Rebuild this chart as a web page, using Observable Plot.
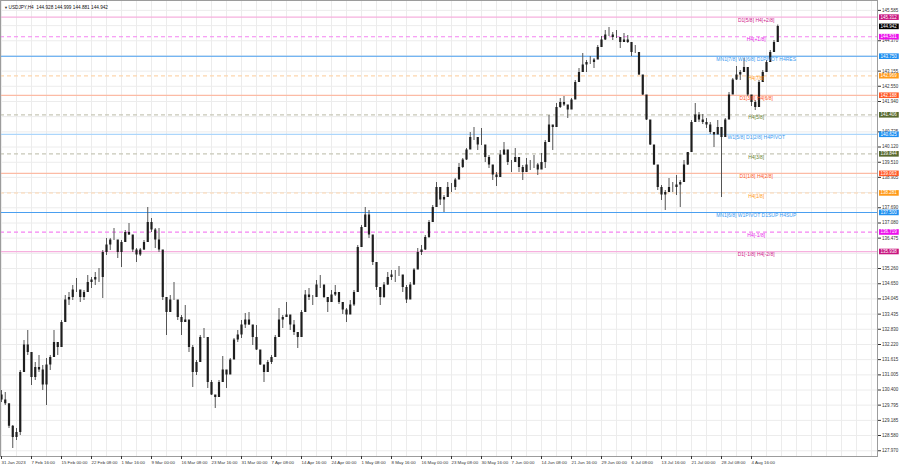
<!DOCTYPE html>
<html><head><meta charset="utf-8">
<script src="https://cdn.jsdelivr.net/npm/d3@7"></script>
<script src="https://cdn.jsdelivr.net/npm/@observablehq/plot@0.6"></script>
<style>html,body{margin:0;padding:0;background:#fff;} svg{display:block}</style>
</head><body><div id="chart"></div>
<script>
// ---------- DATA ----------
const symbolTitle = "USDJPY,H4  144.928 144.999 144.881 144.942";
const barStep = 4; // H4 bars represented by each sampled candle
const firstOpen = 130.20;
const hi = [
130.38,130.30,129.58,128.98,128.86,131.18,132.38,132.78,131.66,131.50,
131.78,131.38,131.66,131.78,132.78,132.18,133.18,134.18,134.30,134.58,
134.86,134.30,134.38,134.98,134.90,135.10,135.26,135.98,136.46,136.46,
136.86,136.18,136.38,136.78,137.06,136.38,136.06,136.06,136.38,137.70,
137.26,136.86,136.86,135.50,133.78,134.18,134.70,133.90,133.38,133.78,
133.10,132.18,131.58,132.58,132.86,132.38,130.78,130.18,130.78,131.74,
131.10,131.66,132.46,132.78,133.18,133.46,133.50,132.66,132.98,131.78,
131.26,131.58,131.78,132.58,133.66,133.38,133.90,133.34,133.18,132.70,
133.58,134.38,134.46,134.18,134.78,134.98,134.58,133.98,134.38,134.58,
134.30,133.90,133.66,133.98,134.38,136.18,136.98,137.70,137.58,136.46,
135.38,134.38,134.70,135.10,135.18,135.18,135.34,134.98,134.58,134.70,
135.26,136.06,136.18,136.58,137.18,137.78,138.70,138.46,138.18,138.70,
138.66,138.86,139.46,139.66,140.06,140.70,140.90,140.46,140.86,139.98,
139.78,139.38,139.10,139.98,140.30,139.90,139.58,140.06,139.58,139.38,
139.66,139.58,139.78,139.46,139.86,140.38,141.38,140.98,141.86,142.06,
142.14,141.66,142.06,142.78,143.26,143.86,143.58,143.74,143.66,144.18,
144.54,144.78,144.90,144.70,144.78,144.38,144.66,144.58,144.30,144.18,
143.86,142.98,142.18,141.18,140.18,139.38,138.58,138.38,138.86,138.70,
138.98,138.78,139.58,139.90,141.18,141.86,141.50,141.42,141.26,141.10,
140.66,141.18,140.58,141.26,142.30,142.86,143.34,143.18,143.66,143.18,
142.18,141.98,142.78,143.18,143.58,143.98,144.38,145.00];
const lo = [
129.90,129.78,128.86,128.06,128.38,128.58,131.18,131.78,130.58,130.78,
131.10,130.38,129.78,131.18,132.18,131.78,132.38,133.18,133.78,133.98,
134.30,133.90,133.98,134.58,134.46,134.58,134.70,134.06,135.78,135.98,
136.38,135.66,135.30,136.30,136.58,135.90,135.50,135.74,135.98,136.38,
136.70,136.06,135.90,133.98,132.58,133.58,133.98,133.18,132.58,133.10,
131.90,130.50,130.98,132.06,132.46,130.46,130.18,129.66,130.38,131.18,
130.46,131.10,131.74,132.30,132.46,132.86,132.98,132.18,131.98,131.38,
130.70,131.18,131.42,131.98,132.58,132.86,133.38,132.78,132.58,132.06,
132.98,133.58,133.98,133.78,134.30,134.46,134.06,133.50,133.90,134.14,
133.82,133.42,133.10,133.50,133.74,134.38,136.14,137.18,136.46,135.38,
134.38,133.78,134.06,134.58,134.78,134.70,134.94,134.30,133.86,134.06,
134.58,135.26,135.78,135.98,136.46,137.26,137.78,137.78,137.50,138.18,
138.30,138.38,138.86,139.26,139.58,140.06,140.38,139.98,140.18,139.50,
139.26,138.78,138.54,139.18,139.78,139.38,139.10,139.58,139.10,138.78,
139.18,139.18,139.26,138.98,139.38,139.26,140.38,139.98,140.98,141.66,
141.74,141.26,141.66,142.06,142.78,143.10,143.10,143.42,143.26,143.78,
144.10,144.38,144.54,144.38,144.46,144.06,144.30,144.26,143.74,143.86,
142.98,142.18,141.18,140.18,139.38,138.38,137.98,137.58,138.38,138.30,
138.18,137.70,138.98,139.38,139.90,141.26,141.10,141.02,140.86,140.62,
140.10,140.86,138.10,140.58,141.26,142.30,142.78,142.78,143.18,142.14,
141.74,141.58,142.14,142.70,143.10,143.50,143.90,144.38];
const close = [
130.00,129.85,128.95,128.50,128.70,131.10,132.20,131.90,130.90,131.30,
131.20,130.60,131.40,131.70,132.30,132.10,133.10,134.00,134.10,134.40,
134.40,134.10,134.30,134.70,134.80,134.90,134.90,135.90,136.20,136.40,
136.40,135.90,136.30,136.70,136.60,136.00,135.80,136.00,136.30,137.10,
136.80,136.40,136.00,134.10,133.50,134.00,134.00,133.30,133.10,133.20,
132.10,131.10,131.50,132.50,132.50,130.70,130.20,130.10,130.70,131.20,
131.00,131.60,132.40,132.60,133.00,133.20,133.00,132.50,132.00,131.40,
131.10,131.50,131.70,132.50,133.20,133.30,133.40,133.00,132.70,132.50,
133.50,134.20,134.10,134.10,134.60,134.60,134.10,133.90,134.20,134.30,
133.90,133.60,133.40,133.80,134.30,136.10,136.90,137.40,136.60,135.50,
134.50,134.10,134.60,134.90,135.00,135.00,135.00,134.50,134.00,134.60,
135.20,135.90,136.00,136.50,137.10,137.70,138.50,138.00,138.10,138.50,
138.50,138.80,139.30,139.60,140.00,140.50,140.50,140.20,140.20,139.70,
139.40,139.00,138.90,139.80,140.00,139.50,139.50,139.70,139.30,139.10,
139.40,139.40,139.40,139.20,139.50,140.30,141.00,140.90,141.70,141.90,
141.80,141.60,142.00,142.70,143.10,143.40,143.50,143.50,143.60,144.10,
144.40,144.60,144.60,144.50,144.50,144.30,144.40,144.30,143.90,143.90,
143.00,142.20,141.20,140.20,139.40,138.50,138.20,138.30,138.50,138.50,
138.60,138.70,139.40,139.90,141.10,141.40,141.20,141.10,141.00,140.70,
140.60,140.90,140.50,141.20,142.20,142.80,143.00,143.10,143.30,142.20,
141.90,141.70,142.70,143.10,143.50,143.90,144.30,144.94];

const levelPrices = [145.312, 144.531, 143.750, 142.969, 142.188, 141.406, 140.625, 139.844, 139.063, 138.281, 137.500, 136.719, 135.938];
const levelNames = ["D1[5/8] H4[+2/8]", "H4[+1/8]", "MN1[7/8] W1[6/8] D1PIVOT H4RES", "H4[7/8]", "D1[3/8] H4[6/8]", "H4[5/8]", "W1[5/8] D1[2/8] H4PIVOT", "H4[3/8]", "D1[1/8] H4[2/8]", "H4[1/8]", "MN1[6/8] W1PIVOT D1SUP H4SUP", "H4[-1/8]", "D1[-1/8] H4[-2/8]"];
const levelKinds = ["d1pink","h4mag","blue","h4orange","d1red","h4olive","lightblue","h4olive","d1red","h4orange","blue","h4mag","d1pink"];
const lastPrice = 144.942;
const labelBar = 805; // bar where MT4 level text objects are anchored

// price scale ticks (grid at all of them; labels fully hidden under price tags are left out)
const priceTicks = [145.585,144.975,144.370,143.760,143.155,142.550,141.940,141.335,140.725,140.120,139.510,138.905,138.300,137.690,137.080,136.475,135.865,135.260,134.650,134.045,133.435,132.830,132.220,131.615,131.005,130.400,129.795,129.185,128.580,127.970];
const hiddenTickLabels = [144.975, 143.760, 141.335, 138.300, 135.865];
const timeTickBars = [0,32,64,96,128,160,192,224,256,288,320,352,384,416,448,480,512,544,576,608,640,672,704,736,768,800];
const timeTickLabels = ["31 Jan 2023","7 Feb 16:00","15 Feb 00:00","22 Feb 08:00","1 Mar 16:00","9 Mar 00:00","16 Mar 08:00","23 Mar 16:00","31 Mar 00:00","7 Apr 08:00","14 Apr 16:00","24 Apr 00:00","1 May 08:00","8 May 16:00","16 May 00:00","23 May 08:00","30 May 16:00","7 Jun 00:00","14 Jun 08:00","21 Jun 16:00","29 Jun 00:00","6 Jul 08:00","13 Jul 16:00","21 Jul 00:00","28 Jul 08:00","4 Aug 16:00"];

// ---------- STYLES ----------
const kindStyle = {
  d1pink:   {line:"#f6b0de", dashed:false, box:"#c8157f", text:"#d0208c"},
  h4mag:    {line:"#f584f2", dashed:true,  box:"#ec10ec", text:"#e81ee8"},
  blue:     {line:"#4a9ff0", dashed:false, box:"#1e8ff0", text:"#3a9af0"},
  h4orange: {line:"#fdd6ad", dashed:true,  box:"#ff9a1a", text:"#ff9a1a"},
  d1red:    {line:"#fcbba5", dashed:false, box:"#ff5a28", text:"#ff5a28"},
  h4olive:  {line:"#c8c8b8", dashed:true,  box:"#58692f", text:"#6b8232"},
  lightblue:{line:"#acd6fb", dashed:false, box:"#1e8ff0", text:"#3a9af0"}
};

// ---------- BUILD ----------
// each candle opens where the previous one closed
const bars = hi.map((h, i) => ({bar: i * barStep, hi: h, lo: lo[i], close: close[i], open: i === 0 ? firstOpen : close[i - 1]}));
const levels = levelPrices.map((p, i) => ({price: p, name: levelNames[i], kind: levelKinds[i]}));
const boxes = [...levels.map(d => ({price: d.price, color: kindStyle[d.kind].box})), {price: lastPrice, color: "#000000"}];
const boxLabels = new Map(boxes.map(d => [d.price.toFixed(3), d.color]));
const timeLabel = new Map(timeTickBars.map((b, i) => [b, timeTickLabels[i]]));
const gridBars = d3.range(0, 934, 16);
const labelTicks = priceTicks.filter(t => !hiddenTickLabels.includes(t));

const svg = Plot.plot({
  width: 900, height: 468,
  marginLeft: 0, marginRight: 23, marginTop: 0, marginBottom: 12,
  style: {fontFamily: "'Liberation Sans', Arial, sans-serif", fontSize: "4.5px", background: "#fff", overflow: "visible"},
  x: {domain: [-1.07, 934.4], axis: null},
  y: {domain: [127.74, 145.98], axis: null},
  color: {type: "identity"},
  marks: [
    Plot.ruleY(priceTicks, {stroke: "#ececec"}),
    Plot.ruleX(gridBars, {stroke: "#ececec"}),
    Plot.ruleY(levels.filter(d => !kindStyle[d.kind].dashed), {y: "price", stroke: d => kindStyle[d.kind].line, strokeWidth: 1.2}),
    Plot.ruleY(levels.filter(d => kindStyle[d.kind].dashed), {y: "price", stroke: d => kindStyle[d.kind].line, strokeWidth: 1.2, strokeDasharray: "4,3"}),
    Plot.ruleX(bars, {x: "bar", y1: "lo", y2: "hi", stroke: "#555", strokeWidth: 1}),
    Plot.ruleX(bars, {x: "bar", y1: "open", y2: "close", stroke: "#1e1e1e", strokeWidth: 2.2}),
    Plot.text(levels, {x: () => labelBar, y: "price", text: "name", fill: d => kindStyle[d.kind].text, dy: 3, fontSize: 5}),
    Plot.frame({stroke: "#9c9c9c"}),
    Plot.axisY(labelTicks, {anchor: "right", label: null, tickSize: 3, tickPadding: 1.5, tickFormat: d => d.toFixed(3), fontSize: 4.5, color: "#333"}),
    Plot.axisX(timeTickBars, {anchor: "bottom", label: null, tickSize: 3, tickPadding: 1.5, tickFormat: d => timeLabel.get(d), textAnchor: "start", fontSize: 4.4, color: "#333"}),
    Plot.text(boxes, {y: "price", text: d => d.price.toFixed(3), frameAnchor: "right", dx: 3, textAnchor: "start", fill: d => d.color, fontSize: 4.5}),
    Plot.text(["▼"], {frameAnchor: "top-left", dx: 3.5, dy: 5.5, text: d => d, fontSize: 4, fill: "#333"}),
    Plot.text([symbolTitle], {frameAnchor: "top-left", dx: 8, dy: 5.5, text: d => d, textAnchor: "start", fontSize: 4.7, fill: "#111"})
  ]
});
document.getElementById("chart").append(svg);

// colored background tags behind right-hand price labels
svg.querySelectorAll("text").forEach(t => {
  const col = boxLabels.get(t.textContent);
  if (!col) return;
  const bb = t.getBBox();
  const r = document.createElementNS("http://www.w3.org/2000/svg", "rect");
  r.setAttribute("x", bb.x - 1.5);
  r.setAttribute("y", bb.y - 0.3);
  r.setAttribute("width", bb.width + 3);
  r.setAttribute("height", bb.height + 0.6);
  r.setAttribute("fill", col);
  if (t.getAttribute("transform")) r.setAttribute("transform", t.getAttribute("transform"));
  t.parentNode.insertBefore(r, t);
  t.setAttribute("fill", "#ffffff");
  t.style.fill = "#ffffff";
});
</script>
</body></html>
